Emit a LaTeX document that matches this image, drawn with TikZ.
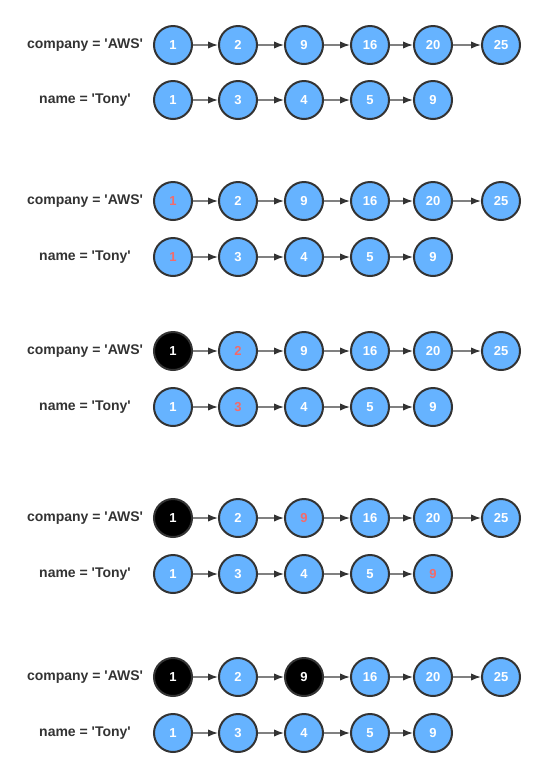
\documentclass[tikz,border=0pt]{standalone}
\usepackage{fontspec}
\newfontfamily\plainsans{Liberation Sans}
\usetikzlibrary{arrows.meta}
\definecolor{nodeblue}{HTML}{66B3FF}
\definecolor{rimgray}{HTML}{333333}
\definecolor{linkgray}{HTML}{808080}
\definecolor{hitred}{HTML}{F46A6A}
\tikzset{
  item/.style={circle, draw=rimgray, line width=1.5pt, fill=nodeblue, text=white,
    minimum size=28.5pt, inner sep=0pt, font=\plainsans\bfseries\fontsize{9.75}{11}\selectfont},
  hit/.style={item, text=hitred},
  done/.style={item, fill=black},
  rowlabel/.style={text=rimgray, font=\plainsans\bfseries\fontsize{10.5}{12}\selectfont},
  link/.style={draw=linkgray, line width=1pt, -{Latex[length=7.5pt,width=5.5pt,color=rimgray]}}
}
\newcommand\chainrow[4]{%
  \node[rowlabel] (#1-l) at (85,#2) {#3};
  \foreach \x/\v/\s [count=\i] in {#4} {
    \node[\s] (#1-\i) at (\x,#2) {\v};
    \ifnum\i>1
      \pgfmathtruncatemacro\j{\i-1}
      \draw[link] (#1-\j) -- (#1-\i);
    \fi
  }
}
\begin{document}
\begin{tikzpicture}[x=0.75pt,y=-0.75pt]
\useasboundingbox (0,0) rectangle (546,776);
% start
\chainrow{a1}{45}{company = 'AWS'}{173/1/item,238/2/item,304/9/item,370/16/item,433/20/item,501/25/item}
\chainrow{b1}{100}{name = 'Tony'}{173/1/item,238/3/item,304/4/item,370/5/item,433/9/item}
% compare heads
\chainrow{a2}{201}{company = 'AWS'}{173/1/hit,238/2/item,304/9/item,370/16/item,433/20/item,501/25/item}
\chainrow{b2}{257}{name = 'Tony'}{173/1/hit,238/3/item,304/4/item,370/5/item,433/9/item}
\chainrow{a3}{351}{company = 'AWS'}{173/1/done,238/2/hit,304/9/item,370/16/item,433/20/item,501/25/item}
\chainrow{b3}{407}{name = 'Tony'}{173/1/item,238/3/hit,304/4/item,370/5/item,433/9/item}
\chainrow{a4}{518}{company = 'AWS'}{173/1/done,238/2/item,304/9/hit,370/16/item,433/20/item,501/25/item}
\chainrow{b4}{574}{name = 'Tony'}{173/1/item,238/3/item,304/4/item,370/5/item,433/9/hit}
% result
\chainrow{a5}{677}{company = 'AWS'}{173/1/done,238/2/item,304/9/done,370/16/item,433/20/item,501/25/item}
\chainrow{b5}{733}{name = 'Tony'}{173/1/item,238/3/item,304/4/item,370/5/item,433/9/item}
\end{tikzpicture}
\end{document}
